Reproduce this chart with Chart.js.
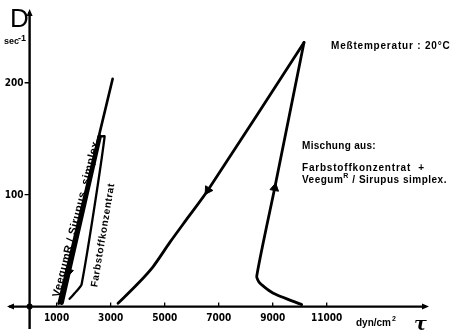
<!DOCTYPE html>
<html>
<head>
<meta charset="utf-8">
<script src="https://cdn.jsdelivr.net/npm/chart.js@4.4.1/dist/chart.umd.min.js"></script>
<style>
  body { margin: 0; background: #fff; }
  canvas { display: block; }
</style>
</head>
<body>
<canvas id="fliess" width="453" height="335"></canvas>
<script>
// Fliesskurven (Schubspannung tau gegen Schergefaelle D)
const xTicks = [1000, 3000, 5000, 7000, 9000, 11000];
const yTicks = [100, 200];

// Veegum / Sirupus simplex
const veegumX = [1074, 3074];
const veegumY = [2.7, 203.5];

// Farbstoffkonzentrat: aufsteigender und absteigender Ast
const farbUpX = [1481, 1667, 1926, 2778, 2593];
const farbUpY = [7, 12, 20, 152, 152];
const farbDownX = [2593, 1185];
const farbDownY = [152, 3.5];

// Mischung: aufsteigender und absteigender Ast
const mixUpX = [10074, 9023, 8530, 8408, 9075, 10159];
const mixUpY = [1.8, 12, 20.8, 27, 106, 236];
const mixDownX = [10159, 6600, 5865, 5198, 4568, 3976, 3273];
const mixDownY = [236, 104, 79.7, 57.6, 35.6, 19.7, 2.9];

// Pfeile auf den Kurven
const arrowX = [6600, 9075, 1444];
const arrowY = [104, 106, 31];
const arrowDir = [213, 11, 193];

function pts(xs, ys) {
    return xs.map((x, i) => ({ x: x, y: ys[i] }));
}

function kurve(xs, ys, breite, tension) {
    return {
        data: pts(xs, ys),
        showLine: true,
        borderColor: "#000",
        borderWidth: breite,
        pointRadius: 0,
        tension: tension,
        borderCapStyle: "round",
        borderJoinStyle: "round"
    };
}

const achsen = {
    id: "achsen",
    beforeDatasetsDraw(chart) {
        const ctx = chart.ctx;
        const xs = chart.scales.x, ys = chart.scales.y;
        const x0 = xs.getPixelForValue(0), y0 = ys.getPixelForValue(0);
        const a = chart.chartArea;
        ctx.save();
        ctx.strokeStyle = "#000";
        ctx.fillStyle = "#000";
        ctx.lineWidth = 2.4;
        ctx.beginPath();
        ctx.moveTo(a.left + 1, y0); ctx.lineTo(a.right - 2, y0);
        ctx.moveTo(x0, a.bottom); ctx.lineTo(x0, a.top + 2);
        ctx.stroke();
        // Pfeilspitzen
        ctx.beginPath();
        ctx.moveTo(a.right + 1, y0); ctx.lineTo(a.right - 6, y0 - 3); ctx.lineTo(a.right - 6, y0 + 3); ctx.closePath();
        ctx.moveTo(a.left - 1, y0); ctx.lineTo(a.left + 6, y0 - 3); ctx.lineTo(a.left + 6, y0 + 3); ctx.closePath();
        ctx.moveTo(x0, a.top - 1); ctx.lineTo(x0 - 3, a.top + 6); ctx.lineTo(x0 + 3, a.top + 6); ctx.closePath();
        ctx.fill();
        ctx.beginPath();
        ctx.arc(x0, y0, 3, 0, Math.PI * 2);
        ctx.fill();
        // Teilstriche
        ctx.lineWidth = 1.3;
        ctx.beginPath();
        xTicks.forEach(v => {
            const px = xs.getPixelForValue(v);
            ctx.moveTo(px, y0); ctx.lineTo(px, y0 - 4);
        });
        yTicks.forEach(v => {
            const py = ys.getPixelForValue(v);
            ctx.moveTo(x0, py); ctx.lineTo(x0 - 5, py);
        });
        ctx.stroke();
        ctx.font = 'bold 10px "Liberation Sans Narrow", "DejaVu Sans Condensed", "Liberation Sans", sans-serif';
        ctx.textBaseline = "middle";
        ctx.textAlign = "center";
        xTicks.forEach(v => ctx.fillText(String(v), xs.getPixelForValue(v), y0 + 12));
        ctx.textAlign = "right";
        yTicks.forEach(v => ctx.fillText(String(v), x0 - 6, ys.getPixelForValue(v) + 0.5));
        ctx.restore();
    },
    afterDraw(chart) {
        const ctx = chart.ctx;
        const xs = chart.scales.x, ys = chart.scales.y;
        ctx.save();
        ctx.fillStyle = "#000";
        ctx.textBaseline = "alphabetic";
        ctx.textAlign = "left";
        ctx.font = '26px "Liberation Sans", sans-serif';
        ctx.fillText("D", 10, 27);
        ctx.font = 'bold 9px "Liberation Sans Narrow", "Liberation Sans", sans-serif';
        ctx.fillText("sec", 4, 44);
        ctx.fillText("-1", 18, 41);
        ctx.font = 'bold 10px "Liberation Sans Narrow", "Liberation Sans", sans-serif';
        ctx.fillText("dyn/cm", 356, 326);
        const wd = ctx.measureText("dyn/cm").width;
        ctx.font = 'bold 7px "Liberation Sans Narrow", "Liberation Sans", sans-serif';
        ctx.fillText("2", 357 + wd, 321);
        ctx.font = 'italic bold 19px "DejaVu Serif", serif';
        ctx.fillText("τ", 414, 330);

        const txt = 'bold 10px "Liberation Sans", sans-serif';
        ctx.font = txt;
        ctx.letterSpacing = "0.8px";
        ctx.fillText("Meßtemperatur : 20°C", 331, 49);
        ctx.letterSpacing = "0.3px";
        ctx.fillText("Mischung aus:", 302, 149);
        ctx.letterSpacing = "0.8px";
        ctx.fillText("Farbstoffkonzentrat  +", 302, 171);
        ctx.letterSpacing = "0.5px";
        ctx.fillText("Veegum", 302, 183);
        const w = ctx.measureText("Veegum").width;
        ctx.font = 'bold 7px "Liberation Sans", sans-serif';
        ctx.fillText("R", 302 + w, 178);
        ctx.font = txt;
        ctx.fillText("/ Sirupus simplex.", 302 + w + 9, 183);

        // Beschriftungen entlang der Kurven
        ctx.font = 'bold 11px "Liberation Sans", sans-serif';
        ctx.letterSpacing = "0.5px";
        ctx.save();
        ctx.translate(xs.getPixelForValue(1100), ys.getPixelForValue(8));
        ctx.rotate(-75.7 * Math.PI / 180);
        ctx.fillText("VeegumR / Sirupus  simplex", 0, 0);
        ctx.restore();
        ctx.font = 'bold 10px "Liberation Sans", sans-serif';
        ctx.letterSpacing = "0.6px";
        ctx.save();
        ctx.translate(xs.getPixelForValue(2500), ys.getPixelForValue(17));
        ctx.rotate(-80.5 * Math.PI / 180);
        ctx.fillText("Farbstoffkonzentrat", 0, 0);
        ctx.restore();
        ctx.restore();
    }
};

new Chart(document.getElementById("fliess"), {
    type: "scatter",
    data: {
        datasets: [
            kurve(veegumX, veegumY, 2.6, 0),
            kurve(farbUpX, farbUpY, 2.3, 0.2),
            kurve(farbDownX, farbDownY, 4.5, 0),
            kurve(mixUpX, mixUpY, 2.8, 0.2),
            kurve(mixDownX, mixDownY, 2.8, 0.3),
            {
                data: pts(arrowX, arrowY),
                pointStyle: "triangle",
                pointRadius: 5,
                pointRotation: arrowDir,
                backgroundColor: "#000",
                borderColor: "#000",
                borderWidth: 1
            }
        ]
    },
    options: {
        responsive: false,
        animation: false,
        layout: { padding: { left: 8, right: 25, top: 10, bottom: 2 } },
        plugins: { legend: { display: false }, tooltip: { enabled: false } },
        scales: {
            x: { type: "linear", min: -800, max: 14750, display: false },
            y: { type: "linear", min: -20, max: 265, display: false }
        }
    },
    plugins: [achsen]
});
</script>
</body>
</html>
